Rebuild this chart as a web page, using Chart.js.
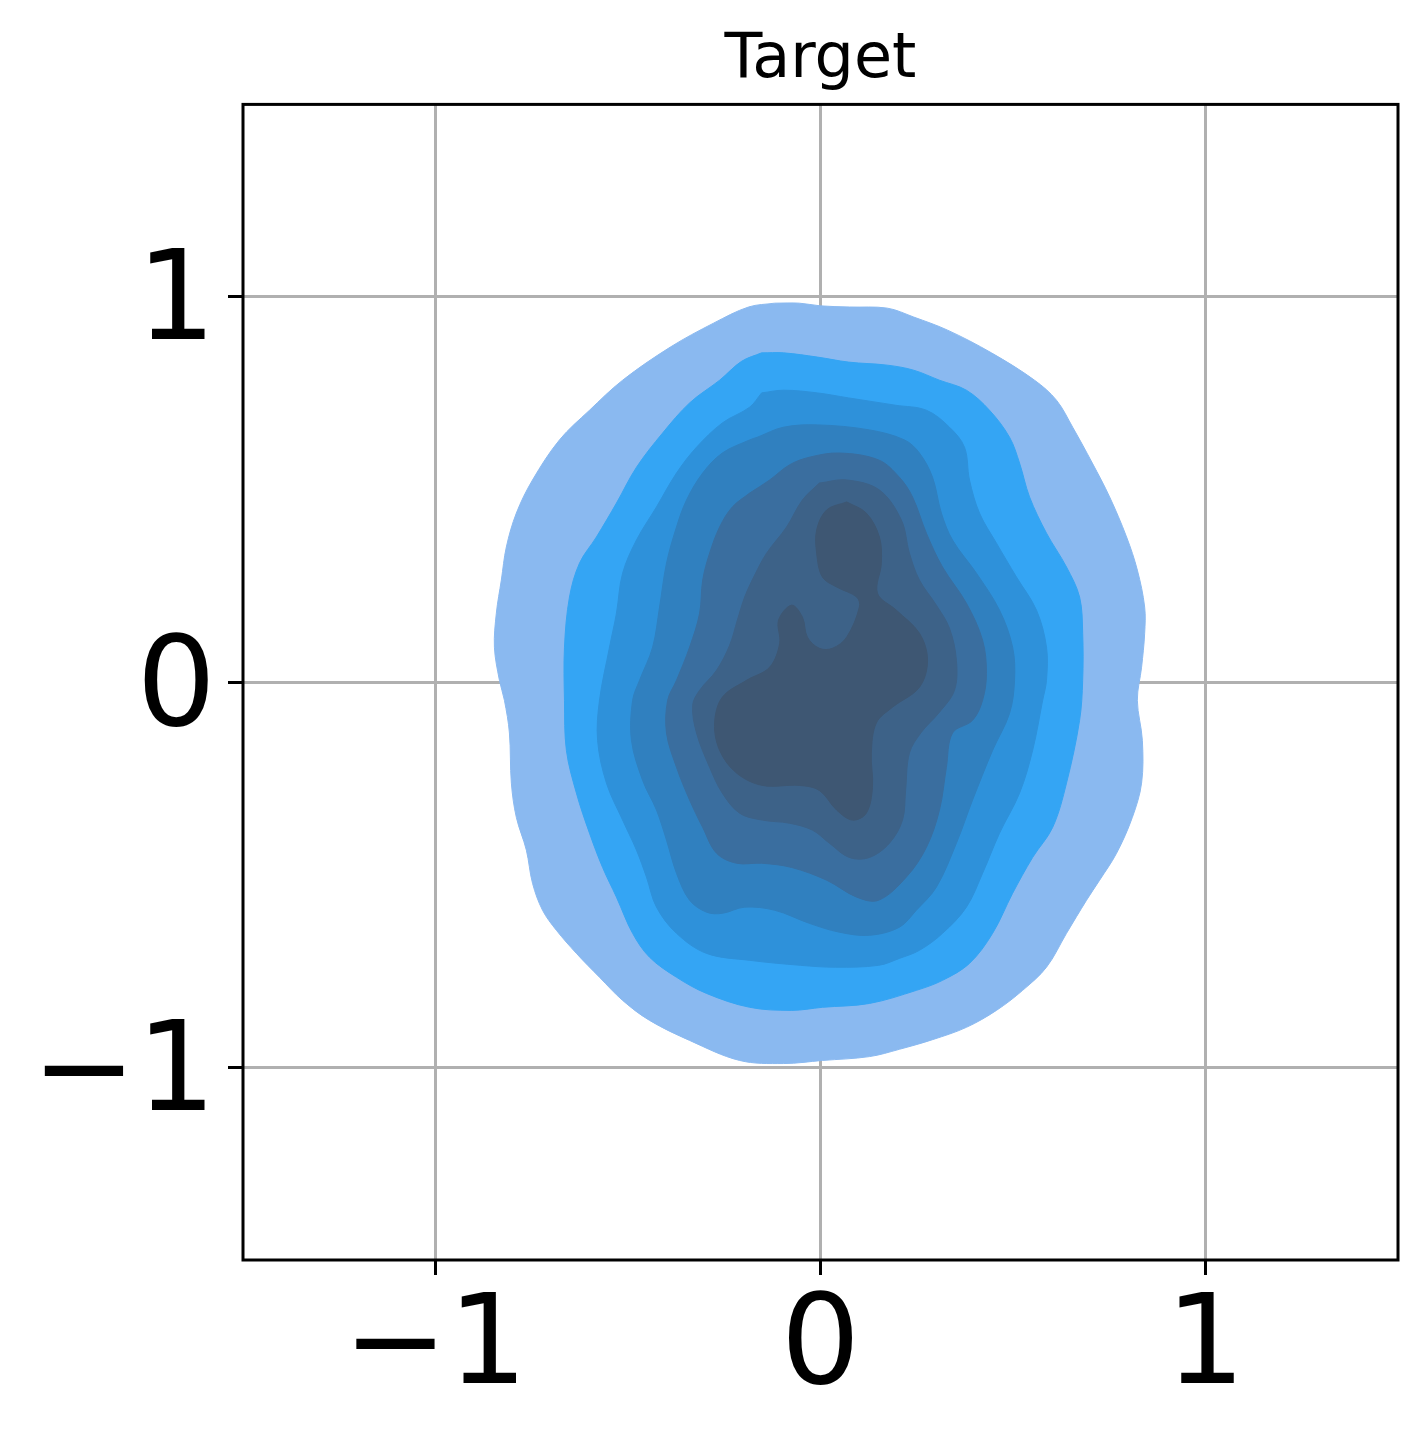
<!DOCTYPE html>
<html>
<head>
<meta charset="utf-8">
<title>Target</title>
<script src="https://cdn.jsdelivr.net/npm/chart.js@4.4.1/dist/chart.umd.min.js"></script>
<style>
  html, body { margin: 0; padding: 0; background: #fff; }
  #wrap { width: 1428px; height: 1440px; }
</style>
</head>
<body>
<div id="wrap"><canvas id="kde" width="1428" height="1440"></canvas></div>
<script>
// osi in oznake
const xTicks = [-1, 0, 1];
const yTicks = [-1, 0, 1];
const axisMin = -1.5;
const axisMax = 1.5;

// konture gostote (od zunanje proti notranji), točke [x, y]
const level1 = [[-0.119,0.984],[-0.055,0.984],[0,0.977],[0.075,0.974],[0.174,0.971],[0.242,0.948],[0.330,0.914],[0.444,0.855],[0.556,0.784],[0.613,0.732],[0.655,0.662],[0.706,0.569],[0.751,0.481],[0.795,0.377],[0.823,0.291],[0.842,0.195],[0.842,0.127],[0.834,0.039],[0.823,-0.047],[0.836,-0.151],[0.834,-0.262],[0.810,-0.351],[0.769,-0.444],[0.725,-0.514],[0.691,-0.566],[0.639,-0.652],[0.587,-0.740],[0.525,-0.800],[0.457,-0.852],[0.379,-0.896],[0.291,-0.928],[0.205,-0.953],[0.127,-0.972],[0.005,-0.982],[-0.096,-0.990],[-0.210,-0.982],[-0.340,-0.930],[-0.444,-0.878],[-0.514,-0.826],[-0.574,-0.766],[-0.634,-0.704],[-0.686,-0.644],[-0.722,-0.592],[-0.748,-0.522],[-0.764,-0.436],[-0.790,-0.351],[-0.803,-0.262],[-0.808,-0.132],[-0.821,-0.047],[-0.834,0.005],[-0.847,0.091],[-0.842,0.179],[-0.829,0.265],[-0.816,0.351],[-0.790,0.439],[-0.748,0.525],[-0.678,0.629],[-0.600,0.706],[-0.514,0.784],[-0.390,0.870],[-0.278,0.932],[-0.187,0.974]];
const level2 = [[-0.153,0.855],[-0.096,0.855],[-0.008,0.844],[0.073,0.831],[0.174,0.823],[0.242,0.810],[0.309,0.784],[0.379,0.758],[0.439,0.706],[0.491,0.636],[0.517,0.569],[0.543,0.481],[0.587,0.387],[0.639,0.299],[0.673,0.221],[0.681,0.127],[0.681,0.005],[0.673,-0.099],[0.639,-0.262],[0.603,-0.377],[0.551,-0.455],[0.499,-0.548],[0.447,-0.652],[0.387,-0.730],[0.317,-0.774],[0.249,-0.800],[0.127,-0.834],[0.005,-0.844],[-0.075,-0.852],[-0.184,-0.844],[-0.296,-0.808],[-0.374,-0.766],[-0.444,-0.714],[-0.488,-0.652],[-0.530,-0.558],[-0.566,-0.481],[-0.600,-0.392],[-0.634,-0.288],[-0.660,-0.177],[-0.665,-0.047],[-0.665,0.091],[-0.652,0.221],[-0.626,0.309],[-0.582,0.377],[-0.530,0.465],[-0.478,0.558],[-0.410,0.647],[-0.340,0.725],[-0.262,0.784],[-0.205,0.833]];
const level3 = [[-0.153,0.751],[-0.096,0.758],[-0.008,0.751],[0.073,0.738],[0.195,0.719],[0.275,0.706],[0.335,0.662],[0.374,0.610],[0.387,0.525],[0.413,0.439],[0.457,0.361],[0.509,0.273],[0.561,0.187],[0.587,0.091],[0.587,0.005],[0.577,-0.047],[0.551,-0.177],[0.517,-0.288],[0.465,-0.392],[0.421,-0.496],[0.379,-0.584],[0.317,-0.652],[0.257,-0.696],[0.205,-0.717],[0.151,-0.735],[0.039,-0.740],[-0.052,-0.735],[-0.184,-0.722],[-0.296,-0.704],[-0.374,-0.652],[-0.426,-0.584],[-0.452,-0.506],[-0.478,-0.436],[-0.514,-0.358],[-0.556,-0.262],[-0.579,-0.151],[-0.574,-0.047],[-0.548,0.091],[-0.530,0.179],[-0.514,0.283],[-0.478,0.369],[-0.426,0.455],[-0.374,0.543],[-0.322,0.610],[-0.255,0.673],[-0.184,0.714]];
const level4 = [[-0.164,0.636],[-0.096,0.662],[-0.008,0.668],[0.127,0.655],[0.218,0.629],[0.257,0.595],[0.291,0.532],[0.314,0.439],[0.343,0.369],[0.405,0.283],[0.465,0.187],[0.499,0.091],[0.504,0.005],[0.491,-0.081],[0.447,-0.177],[0.395,-0.306],[0.353,-0.418],[0.301,-0.532],[0.249,-0.592],[0.205,-0.636],[0.127,-0.657],[0.049,-0.649],[-0.029,-0.626],[-0.119,-0.592],[-0.197,-0.584],[-0.255,-0.600],[-0.296,-0.597],[-0.340,-0.566],[-0.374,-0.496],[-0.400,-0.410],[-0.426,-0.332],[-0.462,-0.255],[-0.491,-0.151],[-0.488,-0.047],[-0.470,0.005],[-0.436,0.091],[-0.418,0.195],[-0.400,0.309],[-0.374,0.403],[-0.348,0.473],[-0.306,0.543],[-0.255,0.595],[-0.184,0.629]];
const level5 = [[-0.184,0.491],[-0.132,0.525],[-0.081,0.564],[-0.029,0.584],[0.049,0.595],[0.151,0.577],[0.205,0.532],[0.239,0.481],[0.275,0.387],[0.317,0.299],[0.379,0.205],[0.421,0.109],[0.431,0.023],[0.421,-0.047],[0.395,-0.099],[0.343,-0.132],[0.327,-0.221],[0.309,-0.332],[0.275,-0.429],[0.223,-0.506],[0.151,-0.566],[0.094,-0.558],[0.016,-0.514],[-0.075,-0.481],[-0.153,-0.470],[-0.218,-0.470],[-0.270,-0.444],[-0.306,-0.377],[-0.340,-0.306],[-0.374,-0.221],[-0.400,-0.132],[-0.397,-0.047],[-0.374,0.005],[-0.340,0.091],[-0.314,0.179],[-0.306,0.265],[-0.288,0.335],[-0.262,0.403],[-0.229,0.455]];
const level6 = [[-0.003,0.517],[0.068,0.525],[0.153,0.499],[0.210,0.421],[0.231,0.335],[0.257,0.265],[0.301,0.200],[0.335,0.140],[0.353,0.057],[0.348,-0.021],[0.309,-0.078],[0.262,-0.130],[0.231,-0.184],[0.221,-0.281],[0.213,-0.358],[0.179,-0.418],[0.127,-0.455],[0.075,-0.455],[0.023,-0.418],[-0.021,-0.384],[-0.081,-0.366],[-0.151,-0.358],[-0.210,-0.340],[-0.255,-0.288],[-0.288,-0.221],[-0.322,-0.132],[-0.332,-0.060],[-0.314,-0.021],[-0.270,0.031],[-0.236,0.096],[-0.216,0.161],[-0.197,0.221],[-0.171,0.278],[-0.140,0.335],[-0.088,0.403],[-0.047,0.473]];
const level7 = [[0.068,0.468],[0.119,0.439],[0.153,0.377],[0.158,0.309],[0.148,0.231],[0.197,0.187],[0.257,0.127],[0.278,0.057],[0.257,-0.013],[0.187,-0.065],[0.145,-0.106],[0.132,-0.184],[0.135,-0.273],[0.119,-0.340],[0.083,-0.358],[0.042,-0.332],[-0.003,-0.281],[-0.055,-0.268],[-0.151,-0.268],[-0.218,-0.236],[-0.262,-0.177],[-0.275,-0.106],[-0.255,-0.039],[-0.192,0.005],[-0.132,0.039],[-0.106,0.101],[-0.109,0.161],[-0.075,0.200],[-0.047,0.169],[-0.034,0.117],[-0.003,0.088],[0.031,0.088],[0.068,0.117],[0.101,0.195],[0.094,0.221],[0.042,0.247],[0.005,0.273],[-0.010,0.335],[-0.010,0.395],[0.016,0.447]];

const levels = [level1, level2, level3, level4, level5, level6, level7];
const levelColors = ['#8ab9f0', '#34a5f4', '#2e91da', '#3080bf', '#3a6e9f', '#3d6288', '#3e5773'];

// zaprt poligon: prva točka še enkrat na koncu
function toPoints(level) {
  const pts = level.map(p => ({x: p[0], y: p[1]}));
  pts.push({x: level[0][0], y: level[0][1]});
  return pts;
}

const datasets = levels.map((level, i) => ({
  data: toPoints(level),
  showLine: true,
  fill: 'shape',
  tension: 0.35,
  pointRadius: 0,
  borderWidth: 1,
  borderColor: levelColors[i],
  backgroundColor: levelColors[i],
  order: levels.length - i
}));

// okvir okoli risalne površine
const frame = {
  id: 'frame',
  afterDraw(chart) {
    const a = chart.chartArea;
    const ctx = chart.ctx;
    ctx.save();
    ctx.strokeStyle = '#000';
    ctx.lineWidth = 3;
    ctx.strokeRect(a.left, a.top, a.right - a.left, a.bottom - a.top);
    ctx.restore();
  }
};

const minus = v => (v < 0 ? '\u2212' + Math.abs(v) : String(v));

function axis(ticks, fit) {
  return {
    type: 'linear',
    min: axisMin,
    max: axisMax,
    z: 1,
    afterBuildTicks: s => { s.ticks = ticks.map(v => ({value: v})); },
    afterFit: fit,
    grid: {
      color: '#b0b0b0',
      lineWidth: 3,
      drawTicks: true,
      tickLength: 15,
      tickColor: '#000',
      tickWidth: 3
    },
    border: { display: false },
    ticks: {
      color: '#000',
      font: { family: 'DejaVu Sans', size: 125 },
      padding: 12,
      maxRotation: 0,
      autoSkip: false,
      callback: minus
    }
  };
}

const xAxis = axis(xTicks, s => { s.height = 180; });
xAxis.ticks.padding = 1;
const yAxis = axis(yTicks, s => { s.width = 243; });
yAxis.ticks.labelOffset = 10;

new Chart(document.getElementById('kde').getContext('2d'), {
  type: 'scatter',
  data: { datasets: datasets },
  options: {
    responsive: false,
    animation: false,
    layout: { padding: { top: 0, right: 30, bottom: 0, left: 0 } },
    scales: { x: xAxis, y: yAxis },
    plugins: {
      legend: { display: false },
      tooltip: { enabled: false },
      title: {
        display: true,
        text: 'Target',
        fullSize: false,
        color: '#000',
        font: { family: 'DejaVu Sans', size: 62, weight: 'normal' },
        padding: { top: 24, bottom: 6 }
      }
    }
  },
  plugins: [frame]
});
</script>
</body>
</html>
